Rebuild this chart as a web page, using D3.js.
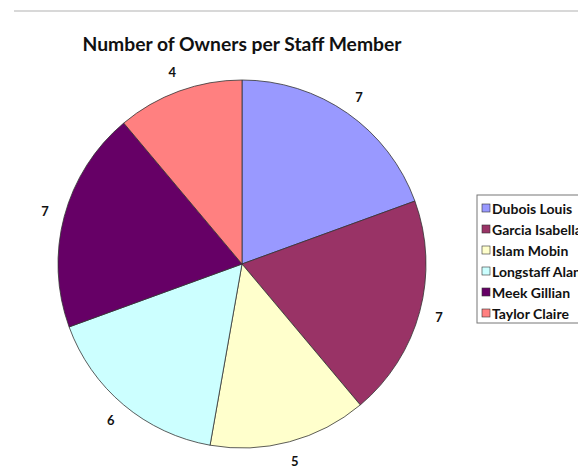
<!DOCTYPE html>
<html><head><meta charset="utf-8">
<script src="https://cdn.jsdelivr.net/npm/d3@7"></script>
<style>html,body{margin:0;padding:0;background:#fff;overflow:hidden}</style>
</head><body>
<svg id="chart" width="578" height="472"></svg>
<script>
const categories = ["Dubois Louis","Garcia Isabella","Islam Mobin","Longstaff Alan","Meek Gillian","Taylor Claire"];
const values = [7,7,5,6,7,4];
const colors = ["#9999FF","#993366","#FFFFCC","#CCFFFF","#660066","#FF8080"];
const title = "Number of Owners per Staff Member";

const svg = d3.select("#chart");
const font = "Lato, 'Open Sans', sans-serif";

svg.append("line").attr("x1",14).attr("x2",578).attr("y1",11).attr("y2",11)
  .attr("stroke","#d8d8d8").attr("stroke-width",2);

svg.append("text").attr("x",242).attr("y",51).attr("text-anchor","middle")
  .attr("font-family",font).attr("font-weight","bold").attr("font-size",19.3)
  .attr("fill","#111").text(title);

const cx = 242, cy = 264, r = 184;
const data = categories.map((c,i)=>({name:c,value:values[i],color:colors[i]}));
const pie = d3.pie().value(d=>d.value).sort(null);
const arcs = pie(data);
const arc = d3.arc().innerRadius(0).outerRadius(r);
const labelArc = d3.arc().innerRadius(r+20).outerRadius(r+20);

const g = svg.append("g").attr("transform",`translate(${cx},${cy})`);
g.selectAll("path").data(arcs).join("path")
  .attr("d",arc).attr("fill",d=>d.data.color)
  .attr("stroke","#333").attr("stroke-width",0.8);

g.selectAll("text.lbl").data(arcs).join("text").attr("class","lbl")
  .attr("transform",d=>`translate(${labelArc.centroid(d)})`)
  .attr("text-anchor","middle").attr("dominant-baseline","central")
  .attr("font-family",font).attr("font-weight","bold").attr("font-size",13)
  .attr("fill","#111").text(d=>d.data.value);

const lg = svg.append("g").attr("transform","translate(477,195)");
lg.append("rect").attr("x",0).attr("y",0).attr("width",140).attr("height",128)
  .attr("fill","#fff").attr("stroke","#777").attr("stroke-width",1);
const items = lg.selectAll("g.item").data(data).join("g").attr("class","item")
  .attr("transform",(d,i)=>`translate(0,${13+i*21})`);
items.append("rect").attr("x",5).attr("y",-4).attr("width",8).attr("height",8)
  .attr("fill",d=>d.color).attr("stroke","#333").attr("stroke-width",0.6);
items.append("text").attr("x",15).attr("y",0).attr("dominant-baseline","central")
  .attr("font-family",font).attr("font-weight","bold").attr("font-size",14)
  .attr("fill","#111").text(d=>d.name);
</script>
</body></html>
